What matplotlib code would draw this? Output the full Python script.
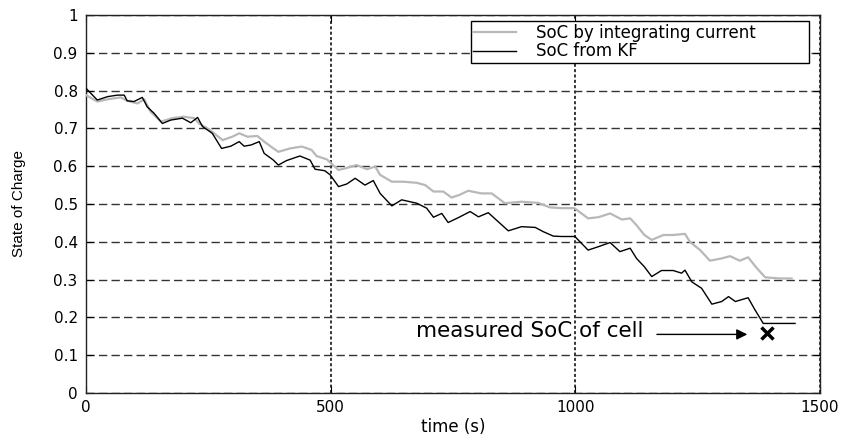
import matplotlib
matplotlib.use("Agg")
import matplotlib.pyplot as plt

# SoC by integrating current (grey trace)
t_int = [0, 23, 44, 71, 84, 105, 119, 132, 153, 176, 200, 221, 231, 252, 279, 299, 313, 330,
         350, 364, 383, 393, 417, 441, 461, 471, 492, 516, 529, 553, 574, 591, 601, 625, 648,
         676, 693, 710, 730, 747, 763, 781, 808, 829, 856, 890, 924, 948, 972, 998, 1026,
         1047, 1071, 1095, 1112, 1125, 1141, 1156, 1180, 1200, 1224, 1234, 1255, 1275, 1299,
         1316, 1336, 1353, 1371, 1388, 1418, 1442]
soc_int = [0.788, 0.771, 0.777, 0.782, 0.773, 0.766, 0.777, 0.744, 0.718, 0.727, 0.731, 0.727,
           0.713, 0.697, 0.669, 0.678, 0.687, 0.678, 0.680, 0.665, 0.647, 0.638, 0.647, 0.652,
           0.643, 0.627, 0.618, 0.590, 0.594, 0.603, 0.592, 0.599, 0.577, 0.559, 0.559, 0.556,
           0.550, 0.533, 0.533, 0.517, 0.524, 0.535, 0.528, 0.528, 0.502, 0.506, 0.503, 0.491,
           0.489, 0.489, 0.462, 0.465, 0.475, 0.459, 0.462, 0.444, 0.418, 0.405, 0.418, 0.418,
           0.421, 0.400, 0.378, 0.350, 0.356, 0.362, 0.350, 0.359, 0.330, 0.306, 0.303, 0.303]

# SoC from KF (black trace)
t_kf = [0, 23, 44, 64, 78, 84, 98, 115, 125, 139, 156, 173, 197, 214, 228, 238, 258, 277, 296,
        313, 323, 337, 354, 364, 383, 393, 410, 437, 458, 468, 488, 499, 516, 533, 550, 570,
        587, 601, 625, 645, 676, 696, 710, 727, 740, 761, 785, 802, 822, 863, 890, 918, 934,
        955, 972, 999, 1026, 1047, 1071, 1091, 1112, 1125, 1141, 1156, 1176, 1200, 1217, 1224,
        1238, 1258, 1279, 1299, 1313, 1327, 1353, 1367, 1384, 1449]
soc_kf = [0.806, 0.775, 0.784, 0.788, 0.788, 0.773, 0.771, 0.782, 0.757, 0.740, 0.713, 0.722,
          0.727, 0.715, 0.729, 0.705, 0.687, 0.647, 0.653, 0.665, 0.653, 0.656, 0.665, 0.634,
          0.616, 0.603, 0.615, 0.627, 0.616, 0.592, 0.588, 0.577, 0.546, 0.553, 0.568, 0.550,
          0.562, 0.528, 0.495, 0.511, 0.502, 0.489, 0.465, 0.475, 0.451, 0.464, 0.480, 0.466,
          0.477, 0.429, 0.440, 0.438, 0.427, 0.415, 0.414, 0.414, 0.378, 0.387, 0.398, 0.374,
          0.383, 0.356, 0.334, 0.308, 0.324, 0.324, 0.317, 0.325, 0.294, 0.277, 0.235, 0.242,
          0.255, 0.242, 0.252, 0.220, 0.184, 0.184]

# measured SoC of the cell
t_meas = [1392]
soc_meas = [0.160]

fig = plt.figure(figsize=(8.46, 4.37), dpi=100)
ax = fig.add_axes([0.1017, 0.1007, 0.8676, 0.865])

ax.plot(t_int, soc_int, color="#b8b8b8", lw=1.6, label="SoC by integrating current", zorder=3)
ax.plot(t_kf, soc_kf, color="black", lw=1.0, label="SoC from KF", zorder=4)
ax.plot(t_meas, soc_meas, "x", color="black", ms=9, mew=2.5, zorder=5)

# annotation text + arrow
ax.text(1138, 0.163, "measured SoC of cell", ha="right", va="center", fontsize=15.5)
ax.annotate("", xy=(1357, 0.155), xytext=(1161, 0.155),
            arrowprops=dict(arrowstyle="-|>", color="black", lw=1.0, mutation_scale=16))

ax.set_xlim(0, 1500)
ax.set_ylim(0, 1)
ax.set_xticks([0, 500, 1000, 1500])
ax.set_yticks([i / 10 for i in range(11)])
ax.set_yticklabels(["0", "0.1", "0.2", "0.3", "0.4", "0.5", "0.6", "0.7", "0.8", "0.9", "1"])

ax.xaxis.grid(True, linestyle=(0, (2, 1.5)), color="black", lw=1.1)
ax.yaxis.grid(True, linestyle=(0, (6, 3)), color="#333333", lw=1.0)
ax.set_axisbelow(True)

ax.tick_params(direction="in", top=True, right=True, length=5, labelsize=11)
ax.tick_params(axis="x", pad=5)
ax.tick_params(axis="y", pad=6)
for s in ax.spines.values():
    s.set_linewidth(1.0)
    s.set_color("#222222")

ax.set_xlabel("time (s)", fontsize=12, labelpad=2)
ax.set_ylabel("State of Charge", fontsize=11, family="Liberation Sans")
ax.yaxis.set_label_coords(-0.082, 0.5)

leg = ax.legend(loc="upper left", bbox_to_anchor=(0.524, 0.876, 0.461, 0.108), mode="expand",
                fontsize=12, fancybox=False, framealpha=1, edgecolor="black",
                handlelength=2.6, handletextpad=1.2, borderpad=0.15, labelspacing=0.05,
                borderaxespad=0)
leg.get_frame().set_linewidth(1.0)
leg.set_zorder(6)

fig.savefig("out.png", dpi=100)
